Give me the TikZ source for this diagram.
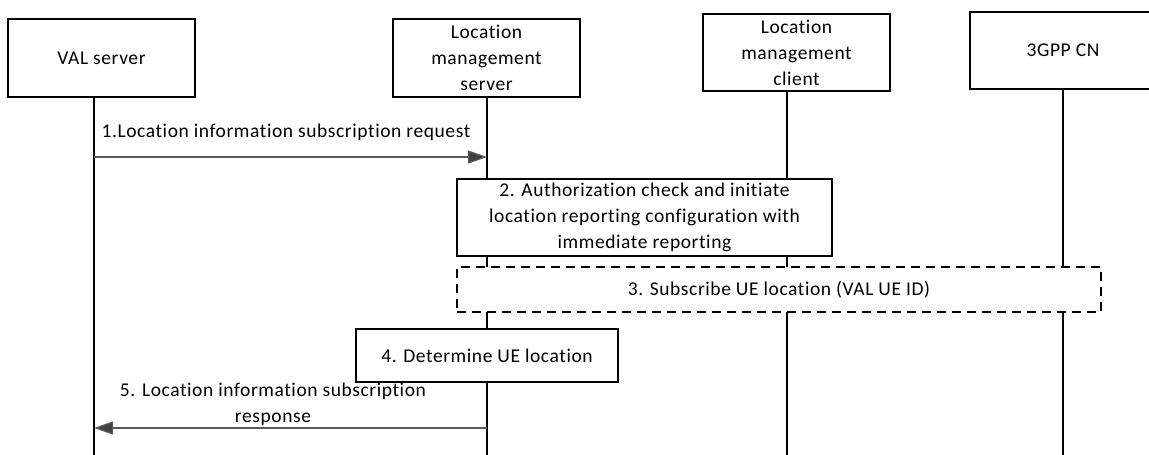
\documentclass[tikz,border=0pt]{standalone}
\usepackage{fontspec}
\setmainfont{Carlito}[LetterSpace=3,Ligatures=CommonOff]
\usepackage{tikz}
\usetikzlibrary{arrows.meta}

\begin{document}
\begin{tikzpicture}[x=1pt,y=-1pt,
        actor/.style={draw,fill=white,line width=1.2pt,inner sep=0pt},
        stepbox/.style={draw,fill=white,line width=1.2pt,inner sep=0pt},
        life/.style={line width=1.2pt},
        msg/.style={draw=black!65,line width=1.2pt,-{Triangle[length=19pt,width=13pt,fill=black!75]}},
        every node/.style={align=center,font=\fontsize{19.5}{26}\selectfont}]
            \clip (0,0) rectangle (1149,455);
            % entities
            \node[actor,minimum width=187,minimum height=78] (val) at (101.5,58) {VAL server};
            \node[actor,minimum width=187,minimum height=78] (lms) at (486.5,58) {Location\\management\\server};
            \node[actor,minimum width=187,minimum height=77] (lmc) at (796.5,52.5) {Location\\management\\client};
            \node[actor,minimum width=186,minimum height=77] (cn) at (1063,50.5) {3GPP CN};
            % lifelines
            \foreach \e/\x in {val/94,lms/487,lmc/787,cn/1063} {
                \coordinate (\e-l) at (\x,455);
                \draw[life] (\e-l |- \e.south) -- (\e-l);
            }
            % 1
            \coordinate (m1) at (0,157);
            \draw[msg] (val-l |- m1) -- (lms-l |- m1);
            \node (l1) at (286,132) {1.Location information subscription request};
            % 2, 3, 4
            \node[stepbox,minimum width=375,minimum height=77] (auth) at (644.5,217.5) {2. Authorization check and initiate\\location reporting configuration with\\immediate reporting};
            \node[stepbox,dash pattern=on 9pt off 6pt,minimum width=644,minimum height=45] (sub) at (779,289.5) {3. Subscribe UE location (VAL UE ID)};
            \node[stepbox,minimum width=262,minimum height=53] (det) at (487,355.5) {4. Determine UE location};
            % 5
            \coordinate (m5) at (0,428);
            \draw[msg] (lms-l |- m5) -- (val-l |- m5);
            \node (l5) at (273,404.5) {5. Location information subscription\\response};
\end{tikzpicture}
\end{document}
